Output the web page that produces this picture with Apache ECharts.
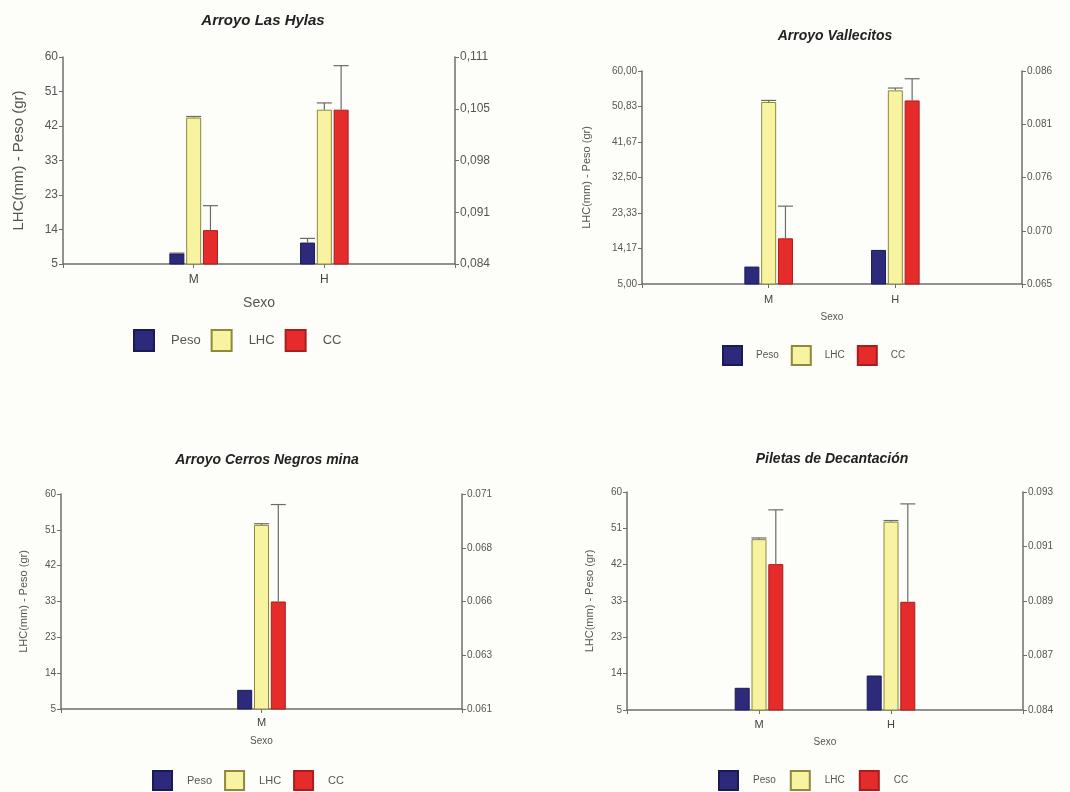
<!DOCTYPE html>
<html>
<head>
<meta charset="utf-8">
<script src="https://cdn.jsdelivr.net/npm/echarts@6/dist/echarts.min.js"></script>
<style>
html,body{margin:0;padding:0;background:#fdfdf9;}
#chart{width:1070px;height:792px;}
</style>
</head>
<body>
<div id="chart"></div>
<script>
// ---------- DATA ----------
const seriesNames = ['Peso', 'LHC', 'CC'];

// Panel 1: Arroyo Las Hylas
const hylasTitle = 'Arroyo Las Hylas';
const hylasCats = ['M', 'H'];
const hylasPeso = [7.8, 10.7];
const hylasPesoErr = [7.9, 11.8];
const hylasLHC = [43.9, 46.0];
const hylasLHCErr = [44.2, 47.8];
const hylasCC = [14.0, 46.0];
const hylasCCErr = [20.5, 57.7];
const hylasLeftTicks = [5, 14.17, 23.33, 32.5, 41.67, 50.83, 60];
const hylasLeftLabels = ['5', '14', '23', '33', '42', '51', '60'];
const hylasRightLabels = ['0,084', '0,091', '0,098', '0,105', '0,111'];

// Panel 2: Arroyo Vallecitos
const vallTitle = 'Arroyo Vallecitos';
const vallCats = ['M', 'H'];
const vallPeso = [9.5, 13.8];
const vallPesoErr = [null, null];
const vallLHC = [52.0, 55.0];
const vallLHCErr = [52.4, 55.6];
const vallCC = [16.8, 52.4];
const vallCCErr = [25.1, 58.0];
const vallLeftTicks = [5, 14.17, 23.33, 32.5, 41.67, 50.83, 60];
const vallLeftLabels = ['5,00', '14,17', '23,33', '32,50', '41,67', '50,83', '60,00'];
const vallRightLabels = ['0.065', '0.070', '0.076', '0.081', '0.086'];

// Panel 3: Arroyo Cerros Negros mina
const cerrosTitle = 'Arroyo Cerros Negros mina';
const cerrosCats = ['M'];
const cerrosPeso = [9.9];
const cerrosPesoErr = [null];
const cerrosLHC = [52.1];
const cerrosLHCErr = [52.4];
const cerrosCC = [32.5];
const cerrosCCErr = [57.3];
const cerrosLeftTicks = [5, 14.17, 23.33, 32.5, 41.67, 50.83, 60];
const cerrosLeftLabels = ['5', '14', '23', '33', '42', '51', '60'];
const cerrosRightLabels = ['0.061', '0.063', '0.066', '0.068', '0.071'];

// Panel 4: Piletas de Decantación
const piletasTitle = 'Piletas de Decantación';
const piletasCats = ['M', 'H'];
const piletasPeso = [10.6, 13.7];
const piletasPesoErr = [null, null];
const piletasLHC = [48.1, 52.5];
const piletasLHCErr = [48.4, 52.8];
const piletasCC = [41.8, 32.3];
const piletasCCErr = [55.5, 57.0];
const piletasLeftTicks = [5, 14.17, 23.33, 32.5, 41.67, 50.83, 60];
const piletasLeftLabels = ['5', '14', '23', '33', '42', '51', '60'];
const piletasRightLabels = ['0.084', '0.087', '0.089', '0.091', '0.093'];

const yName = 'LHC(mm) - Peso (gr)';
const xName = 'Sexo';

// ---------- STYLE / LAYOUT ----------
const colors = {
  Peso: { fill: '#2d2a7c', border: '#1c1a55' },
  LHC: { fill: '#f8f3a0', border: '#8d8a3c' },
  CC: { fill: '#e62b2b', border: '#a81e1e' }
};
const FONT = 'Liberation Sans, Arial, sans-serif';
const BAR_W = 15;
const BAR_GAP = 0.12;

const panels = [
  {
    title: hylasTitle, cats: hylasCats,
    vals: [hylasPeso, hylasLHC, hylasCC], errs: [hylasPesoErr, hylasLHCErr, hylasCCErr],
    leftTicks: hylasLeftTicks, leftLabels: hylasLeftLabels, rightLabels: hylasRightLabels,
    grid: { left: 63, right: 615, top: 57, bottom: 528 },
    titlePos: { x: 258, y: 8 }, titleSize: 15,
    tickSize: 12, nameSize: 15, yNameGap: 37, catMargin: 10, catSize: 12, xNameGap: 32, xNameSize: 14,
    legend: { left: 133, top: 329, iw: 20, ih: 21, size: 13, pad: 12, gap: 10 }
  },
  {
    title: vallTitle, cats: vallCats,
    vals: [vallPeso, vallLHC, vallCC], errs: [vallPesoErr, vallLHCErr, vallCCErr],
    leftTicks: vallLeftTicks, leftLabels: vallLeftLabels, rightLabels: vallRightLabels,
    grid: { left: 642, right: 48, top: 71, bottom: 508 },
    titlePos: { x: 830, y: 24 }, titleSize: 14,
    tickSize: 10, nameSize: 11, yNameGap: 50, catMargin: 10, catSize: 11, xNameGap: 28, xNameSize: 10,
    legend: { left: 722, top: 345, iw: 19, ih: 19, size: 10, pad: 9, gap: 12 }
  },
  {
    title: cerrosTitle, cats: cerrosCats,
    vals: [cerrosPeso, cerrosLHC, cerrosCC], errs: [cerrosPesoErr, cerrosLHCErr, cerrosCCErr],
    leftTicks: cerrosLeftTicks, leftLabels: cerrosLeftLabels, rightLabels: cerrosRightLabels,
    grid: { left: 61, right: 608, top: 494, bottom: 83 },
    titlePos: { x: 262, y: 448 }, titleSize: 14,
    tickSize: 10, nameSize: 11, yNameGap: 32, catMargin: 8, catSize: 11, xNameGap: 27, xNameSize: 10,
    legend: { left: 152, top: 770, iw: 19, ih: 19, size: 11, pad: 10, gap: 12 }
  },
  {
    title: piletasTitle, cats: piletasCats,
    vals: [piletasPeso, piletasLHC, piletasCC], errs: [piletasPesoErr, piletasLHCErr, piletasCCErr],
    leftTicks: piletasLeftTicks, leftLabels: piletasLeftLabels, rightLabels: piletasRightLabels,
    grid: { left: 627, right: 47, top: 492, bottom: 82 },
    titlePos: { x: 827, y: 447 }, titleSize: 14,
    tickSize: 10, nameSize: 11, yNameGap: 32, catMargin: 9, catSize: 11, xNameGap: 27, xNameSize: 10,
    legend: { left: 718, top: 770, iw: 19, ih: 19, size: 10, pad: 10, gap: 14 }
  }
];

const AXIS_COLOR = '#6e6e6e';
const LABEL_COLOR = '#555';

const option = {
  backgroundColor: '#fdfdf9',
  animation: false,
  title: [], grid: [], xAxis: [], yAxis: [], series: [], legend: []
};

panels.forEach((p, pi) => {
  const cats = [''].concat(p.cats, ['']);
  option.title.push({
    text: p.title, left: p.titlePos.x, top: p.titlePos.y, textAlign: 'center',
    textStyle: { fontFamily: FONT, fontSize: p.titleSize, fontWeight: 'bold', fontStyle: 'italic', color: '#222' }
  });
  option.grid.push(Object.assign({ containLabel: false }, p.grid));
  option.xAxis.push({
    type: 'category', gridIndex: pi, data: cats, boundaryGap: false,
    name: xName, nameLocation: 'middle', nameGap: p.xNameGap,
    nameTextStyle: { fontFamily: FONT, fontSize: p.xNameSize, color: LABEL_COLOR },
    axisLine: { lineStyle: { color: AXIS_COLOR, width: 1.5 } },
    axisTick: { show: true, length: 4, interval: 0, lineStyle: { color: AXIS_COLOR } },
    axisLabel: { interval: 0, margin: p.catMargin, fontFamily: FONT, fontSize: p.catSize, color: '#444' },
    splitLine: { show: false }
  });
  const leftLabelOf = (v) => {
    let best = 0, bd = Infinity;
    p.leftTicks.forEach((t, i) => { const d = Math.abs(t - v); if (d < bd) { bd = d; best = i; } });
    return p.leftLabels[best];
  };
  option.yAxis.push({
    type: 'value', gridIndex: pi, position: 'left',
    min: p.leftTicks[0], max: p.leftTicks[p.leftTicks.length - 1],
    name: yName, nameLocation: 'middle', nameGap: p.yNameGap, nameRotate: 90,
    nameTextStyle: { fontFamily: FONT, fontSize: p.nameSize, color: '#555' },
    axisLine: { show: true, lineStyle: { color: AXIS_COLOR, width: 1.5 } },
    axisTick: { show: true, length: 4, customValues: p.leftTicks, lineStyle: { color: AXIS_COLOR } },
    axisLabel: { customValues: p.leftTicks, margin: 5, fontFamily: FONT, fontSize: p.tickSize, color: LABEL_COLOR,
      formatter: (v) => leftLabelOf(v) },
    splitLine: { show: false }
  });
  option.yAxis.push({
    type: 'category', gridIndex: pi, position: 'right', data: p.rightLabels, boundaryGap: false,
    axisLine: { show: true, onZero: false, lineStyle: { color: AXIS_COLOR, width: 1.5 } },
    axisTick: { show: true, length: 4, interval: 0, lineStyle: { color: AXIS_COLOR } },
    axisLabel: { interval: 0, margin: 5, fontFamily: FONT, fontSize: p.tickSize, color: LABEL_COLOR },
    splitLine: { show: false }
  });
  const xIdx = pi, yIdx = pi * 2;
  seriesNames.forEach((name, si) => {
    option.series.push({
      type: 'bar', name: name, xAxisIndex: xIdx, yAxisIndex: yIdx,
      barWidth: BAR_W, barGap: (BAR_GAP * 100) + '%',
      data: ['-'].concat(p.vals[si], ['-']),
      itemStyle: { color: colors[name].fill, borderColor: colors[name].border, borderWidth: 1 },
      z: 2
    });
  });
  // error bars
  const errData = [];
  seriesNames.forEach((name, si) => {
    p.errs[si].forEach((top, ci) => {
      if (top != null) errData.push([ci + 1, si, top, p.vals[si][ci]]);
    });
  });
  option.series.push({
    type: 'custom', name: 'err' + pi, xAxisIndex: xIdx, yAxisIndex: yIdx, z: 3,
    encode: { x: 0, y: 2 },
    data: errData,
    renderItem: function (params, api) {
      const top = api.coord([api.value(0), api.value(2)]);
      const base = api.coord([api.value(0), api.value(3)]);
      const stride = BAR_W * (1 + BAR_GAP);
      const x = top[0] + (api.value(1) - 1) * stride;
      const st = { stroke: '#6a6a6a', lineWidth: 1.2 };
      return {
        type: 'group', children: [
          { type: 'line', shape: { x1: x, y1: base[1], x2: x, y2: top[1] }, style: st },
          { type: 'line', shape: { x1: x - BAR_W / 2, y1: top[1], x2: x + BAR_W / 2, y2: top[1] }, style: st }
        ]
      };
    }
  });
  option.legend.push({
    data: seriesNames, left: p.legend.left, top: p.legend.top, orient: 'horizontal', padding: 0,
    icon: 'rect', itemWidth: p.legend.iw, itemHeight: p.legend.ih, itemGap: p.legend.gap,
    selectedMode: false,
    textStyle: { fontFamily: FONT, fontSize: p.legend.size, color: '#555', padding: [0, 0, 0, p.legend.pad] }
  });
});

const chart = echarts.init(document.getElementById('chart'), null, { renderer: 'canvas' });
chart.setOption(option);
</script>
</body>
</html>
